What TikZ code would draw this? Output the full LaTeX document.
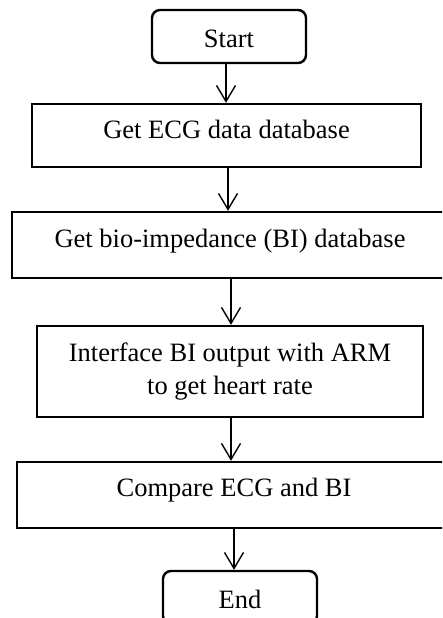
\documentclass[tikz,border=0pt]{standalone}
\usepackage{fontspec}
\setmainfont{Liberation Serif}
\usetikzlibrary{arrows.meta}
\tikzset{
  boxstyle/.style={draw, line width=2.4pt, inner sep=0pt, align=center,
    font=\fontsize{26.5}{33}\selectfont},
  termstyle/.style={boxstyle, rounded corners=8pt},
  arr/.style={line width=1.4pt, -{Straight Barb[length=16pt,width=19pt,line width=1.4pt]}}
}
\begin{document}
\begin{tikzpicture}[x=1pt,y=-1pt]
\useasboundingbox (0,0) rectangle (442,618);
\clip (0,0) rectangle (442,618);
\node[termstyle, minimum width=154pt, minimum height=53pt, text height=23pt, text depth=0pt] (start) at (229,36.5) {Start};
\node[boxstyle, minimum width=389pt, minimum height=63pt, text height=18pt, text depth=13pt] (b1) at (226.5,135.5) {Get ECG data database};
\node[boxstyle, minimum width=436pt, minimum height=66pt, text height=18pt, text depth=14pt] (b2) at (230,245) {Get bio-impedance (BI) database};
\node[boxstyle, minimum width=386pt, minimum height=91pt] (b3) at (230,371.5) {Interface BI output with ARM\\to get heart rate};
\node[boxstyle, minimum width=434pt, minimum height=66pt, text height=18pt, text depth=16pt] (b4) at (234,495) {Compare ECG and BI};
\node[termstyle, minimum width=154pt, minimum height=53pt, text height=21pt, text depth=0pt] (end) at (240,597.5) {End};
\coordinate (x1) at (226,0);
\coordinate (x2) at (228,0);
\coordinate (x3) at (231,0);
\coordinate (x4) at (231,0);
\coordinate (x5) at (234,0);
\draw[arr] (start.south -| x1) -- (b1.north -| x1);
\draw[arr] (b1.south -| x2) -- (b2.north -| x2);
\draw[arr] (b2.south -| x3) -- (b3.north -| x3);
\draw[arr] (b3.south -| x4) -- (b4.north -| x4);
\draw[arr] (b4.south -| x5) -- (end.north -| x5);
\end{tikzpicture}
\end{document}
